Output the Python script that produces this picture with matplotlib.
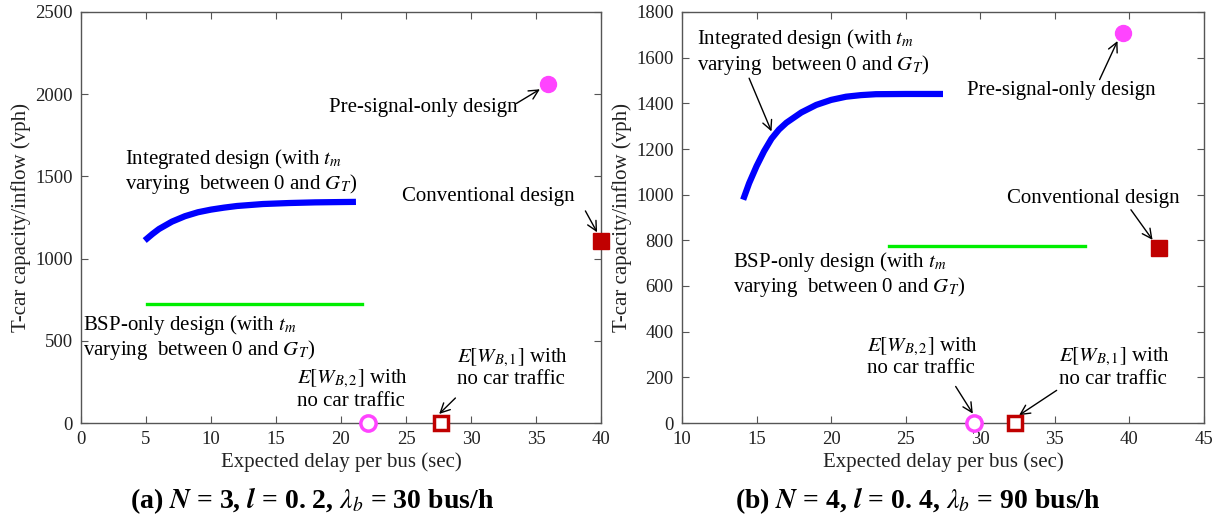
import matplotlib
matplotlib.use("Agg")
import matplotlib.pyplot as plt

plt.rcParams['font.family'] = ['Liberation Serif', 'DejaVu Serif']
plt.rcParams['mathtext.fontset'] = 'stix'

# ---------------- data: panel (a) ----------------
a_int_x = [4.9, 5.5, 6, 7, 8, 9, 10, 11, 12, 14, 16, 18, 20, 21.15]
a_int_y = [1110, 1150, 1180, 1225, 1258, 1282, 1298, 1310, 1320, 1332, 1338, 1342, 1344, 1345]
a_bsp_x = [5.1, 21.6]
a_bsp_y = [722, 722]
a_pre = (35.9, 2062)
a_conv = (40.0, 1105)
a_ew2 = (22.1, 0)
a_ew1 = (27.7, 0)

# ---------------- data: panel (b) ----------------
b_int_x = [14.1, 14.5, 15, 15.5, 16, 16.5, 17, 18, 19, 20, 21, 22, 23, 25, 27.5]
b_int_y = [978, 1050, 1125, 1190, 1245, 1285, 1315, 1360, 1393, 1415, 1429, 1436, 1440, 1441, 1441]
b_bsp_x = [23.9, 37.0]
b_bsp_y = [773, 773]
b_pre = (39.55, 1708)
b_conv = (42.0, 765)
b_ew2 = (29.55, 0)
b_ew1 = (32.35, 0)

fig = plt.figure(figsize=(12.24, 5.24), dpi=100)
axA = fig.add_axes([81/1224, 1-423/524, 520/1224, 411/524])
axB = fig.add_axes([682/1224, 1-423/524, 522/1224, 411/524])

TFS = 13.5   # tick labels
LFS = 15     # axis labels
AFS = 15     # annotations
blue = '#0000ff'
green = '#00ee00'
mag = '#ff44ff'
dred = '#c00000'

def style(ax, xlim, xticks, ylim, yticks):
    ax.set_xlim(*xlim); ax.set_ylim(*ylim)
    ax.set_xticks(xticks); ax.set_yticks(yticks)
    ax.tick_params(direction='in', top=True, right=True, labelsize=TFS, length=5,
                   color='#555555', pad=6)
    for s in ax.spines.values():
        s.set_color('#555555'); s.set_linewidth(1.0)
    ax.set_xlabel('Expected delay per bus (sec)', fontsize=LFS, color='#222222', labelpad=3)
    ax.set_ylabel('T-car capacity/inflow (vph)', fontsize=LFS, color='#222222', labelpad=3)
    for l in ax.get_xticklabels() + ax.get_yticklabels():
        l.set_color('#222222')

def draw(ax, ix, iy, bx, by, pre, conv, ew2, ew1):
    ax.plot(ix, iy, color=blue, lw=4.5, solid_capstyle='butt', zorder=3)
    ax.plot(bx, by, color=green, lw=2.4, zorder=3)
    ax.plot([pre[0]], [pre[1]], 'o', color=mag, ms=11.5, zorder=4, clip_on=False)
    ax.plot([conv[0]], [conv[1]], 's', color=dred, ms=11, zorder=4, clip_on=False)
    ax.plot([ew2[0]], [ew2[1]], 'o', mfc='white', mec=mag, mew=2.5, ms=11, zorder=4, clip_on=False)
    ax.plot([ew1[0]], [ew1[1]], 's', mfc='white', mec=dred, mew=2.5, ms=10.5, zorder=4, clip_on=False)

t_int = 'Integrated design (with $t_m$\nvarying  between 0 and $G_T$)'
t_bsp = 'BSP-only design (with $t_m$\nvarying  between 0 and $G_T$)'
t_pre = 'Pre-signal-only design'
t_conv = 'Conventional design'
t_ew2 = r'$E\left[W_{B,2}\right]$ with' + '\nno car traffic'
t_ew1 = r'$E\left[W_{B,1}\right]$ with' + '\nno car traffic'
ap = dict(arrowstyle='->', color='black', lw=1.0, mutation_scale=17, shrinkA=0, shrinkB=0)
kw = dict(fontsize=AFS, ha='left', va='center', linespacing=1.1)

# panel (a)
style(axA, (0, 40), range(0, 41, 5), (0, 2500), range(0, 2501, 500))
draw(axA, a_int_x, a_int_y, a_bsp_x, a_bsp_y, a_pre, a_conv, a_ew2, a_ew1)
axA.text(3.38, 1530, t_int, **kw)
axA.text(0.15, 520, t_bsp, **kw)
axA.text(19.1, 1919, t_pre, **kw)
axA.annotate('', xy=(35.3, 2030), xytext=(33.5, 1944), arrowprops=ap)
axA.text(24.7, 1375, t_conv, **kw)
axA.annotate('', xy=(39.7, 1160), xytext=(38.8, 1290), arrowprops=ap)
axA.text(16.6, 205, t_ew2, **kw)
axA.text(28.9, 334, t_ew1, **kw)
axA.annotate('', xy=(27.55, 55), xytext=(28.8, 152), arrowprops=ap)

# panel (b)
style(axB, (10, 45), range(10, 46, 5), (0, 1800), range(0, 1801, 200))
draw(axB, b_int_x, b_int_y, b_bsp_x, b_bsp_y, b_pre, b_conv, b_ew2, b_ew1)
axB.text(11.02, 1625, t_int, **kw)
axB.annotate('', xy=(16.0, 1277), xytext=(14.5, 1510), arrowprops=ap)
axB.text(29.08, 1455, t_pre, **kw)
axB.annotate('', xy=(39.2, 1673), xytext=(38.0, 1504), arrowprops=ap)
axB.text(31.76, 982, t_conv, **kw)
axB.annotate('', xy=(41.55, 802), xytext=(40.1, 934), arrowprops=ap)
axB.text(13.39, 650, t_bsp, **kw)
axB.text(22.4, 290, t_ew2, **kw)
axB.annotate('', xy=(29.5, 41), xytext=(28.35, 160), arrowprops=ap)
axB.text(35.3, 243, t_ew1, **kw)
axB.annotate('', xy=(32.6, 34), xytext=(35.12, 143), arrowprops=ap)

# captions
capA = r'(a) $\boldsymbol{N}$ = 3, $\boldsymbol{l}$ = 0. 2, $\boldsymbol{\lambda_b}$ = 30 bus/h'
capB = r'(b) $\boldsymbol{N}$ = 4, $\boldsymbol{l}$ = 0. 4, $\boldsymbol{\lambda_b}$ = 90 bus/h'
fig.text(312/1224, 1-501/524, capA, fontsize=20, fontweight='bold', ha='center', va='center')
fig.text(918/1224, 1-501/524, capB, fontsize=20, fontweight='bold', ha='center', va='center')

fig.savefig('out.png', dpi=100)
